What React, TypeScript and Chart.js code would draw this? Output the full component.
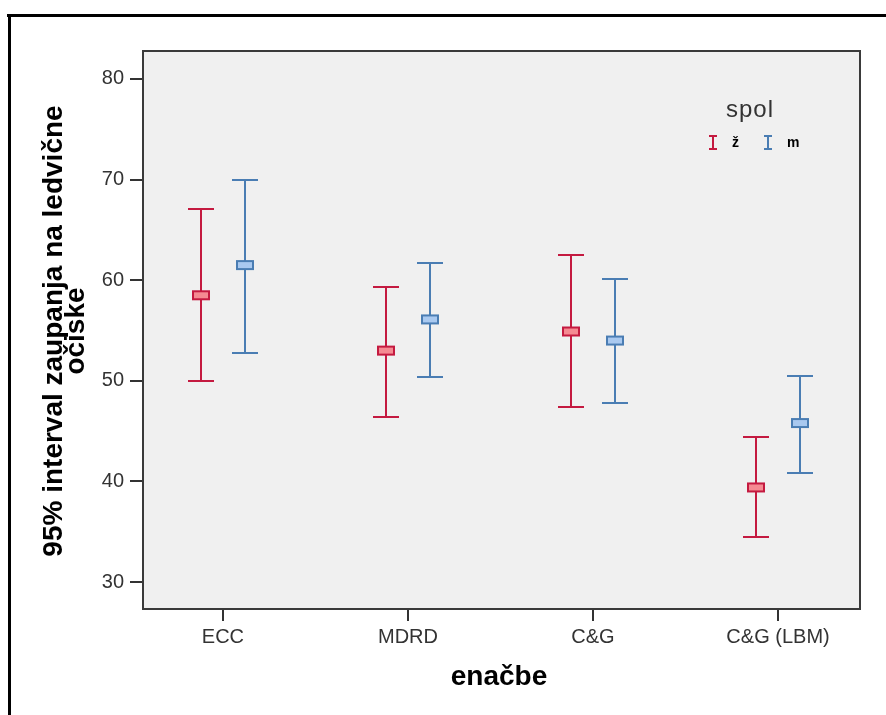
import React, { useEffect, useRef } from "react";
import { Chart, registerables } from "chart.js";

Chart.register(...registerables);

// ---- data ----
const categories = ["ECC", "MDRD", "C&G", "C&G (LBM)"];
const groupLabels = ["ž", "m"];
const femaleMean = [58.5, 53.0, 54.9, 39.4];
const femaleLower = [50.0, 46.4, 47.4, 34.5];
const femaleUpper = [67.1, 59.3, 62.5, 44.4];
const maleMean = [61.5, 56.1, 54.0, 45.8];
const maleLower = [52.8, 50.4, 47.8, 40.8];
const maleUpper = [70.0, 61.7, 60.1, 50.5];
const yTicks = [30, 40, 50, 60, 70, 80];
const yTitleLines = ["95% interval zaupanja na ledvične", "očiske"];
const xTitle = "enačbe";
const legendTitle = "spol";

// ---- styles ----
const FONT = '"Liberation Sans", Arial, sans-serif';
const GROUP_OFFSET = 0.12;
const seriesStyle = [
  { line: "#c41a40", fill: "#f58a92", offset: -GROUP_OFFSET },
  { line: "#4a7db3", fill: "#a9c9f0", offset: GROUP_OFFSET },
];
const seriesData = [
  { mean: femaleMean, lower: femaleLower, upper: femaleUpper },
  { mean: maleMean, lower: maleLower, upper: maleUpper },
];

const errorBarPlugin = {
  id: "errorBars",
  beforeDatasetsDraw(chart: any) {
    const { ctx, chartArea: a } = chart;
    ctx.save();
    ctx.fillStyle = "#f0f0f0";
    ctx.fillRect(a.left, a.top, a.right - a.left, a.bottom - a.top);
    ctx.restore();
  },
  afterDatasetsDraw(chart: any) {
    const { ctx } = chart;
    const xs = chart.scales.x;
    const ys = chart.scales.y;
    ctx.save();
    seriesData.forEach((s, si) => {
      const st = seriesStyle[si];
      s.mean.forEach((m, i) => {
        const px = Math.round(xs.getPixelForValue(i + st.offset));
        const pTop = Math.round(ys.getPixelForValue(s.upper[i]));
        const pBot = Math.round(ys.getPixelForValue(s.lower[i]));
        const pMean = ys.getPixelForValue(m);
        ctx.strokeStyle = st.line;
        ctx.lineWidth = 2;
        ctx.beginPath();
        ctx.moveTo(px, pTop);
        ctx.lineTo(px, pBot);
        ctx.moveTo(px - 13, pTop);
        ctx.lineTo(px + 13, pTop);
        ctx.moveTo(px - 13, pBot);
        ctx.lineTo(px + 13, pBot);
        ctx.stroke();
        ctx.fillStyle = st.fill;
        ctx.fillRect(px - 8, pMean - 4, 16, 8);
        ctx.strokeRect(px - 8, pMean - 4, 16, 8);
      });
    });
    ctx.restore();
  },
  afterDraw(chart: any) {
    const { ctx, chartArea: a } = chart;
    ctx.save();
    // plot border
    ctx.strokeStyle = "#3a3a3a";
    ctx.lineWidth = 2;
    ctx.strokeRect(a.left, a.top, a.right - a.left, a.bottom - a.top);

    // y title
    ctx.fillStyle = "#000";
    ctx.font = `bold 28px ${FONT}`;
    ctx.textAlign = "center";
    ctx.textBaseline = "alphabetic";
    ctx.save();
    ctx.translate(0, 331);
    ctx.rotate(-Math.PI / 2);
    ctx.fillText(yTitleLines[0], 0, 62);
    ctx.fillText(yTitleLines[1], 0, 84);
    ctx.restore();

    // x title
    ctx.fillText(xTitle, 499, 685);

    // legend
    ctx.fillStyle = "#333";
    ctx.font = `24px ${FONT}`;
    (ctx as any).letterSpacing = "1px";
    ctx.fillText(legendTitle, 750, 117);
    (ctx as any).letterSpacing = "0px";
    const lx = [713, 768];
    groupLabels.forEach((g, gi) => {
      const st = seriesStyle[gi];
      const x = lx[gi];
      ctx.strokeStyle = st.line;
      ctx.lineWidth = 2;
      ctx.beginPath();
      ctx.moveTo(x, 136);
      ctx.lineTo(x, 149);
      ctx.moveTo(x - 4, 136);
      ctx.lineTo(x + 4, 136);
      ctx.moveTo(x - 4, 149);
      ctx.lineTo(x + 4, 149);
      ctx.stroke();
      ctx.fillStyle = "#000";
      ctx.font = `bold 14px ${FONT}`;
      ctx.textAlign = "left";
      ctx.fillText(g, x + 19, 147);
    });

    // outer frame
    ctx.fillStyle = "#000";
    ctx.fillRect(7, 14, 879, 3);
    ctx.fillRect(8, 14, 3, 701);
    ctx.restore();
  },
};

export default function App() {
  const ref = useRef<HTMLCanvasElement | null>(null);
  useEffect(() => {
    if (!ref.current) return;
    const tickFont = { family: FONT, size: 20 };
    const chart = new Chart(ref.current, {
      type: "scatter",
      data: {
        datasets: seriesData.map((s, si) => ({
          label: groupLabels[si],
          data: s.mean.map((v, i) => ({ x: i + seriesStyle[si].offset, y: v })),
          pointRadius: 0,
          showLine: false,
        })),
      },
      options: {
        responsive: false,
        animation: false,
        layout: { padding: { top: 51, right: 26, left: 0, bottom: 0 } },
        plugins: { legend: { display: false }, tooltip: { enabled: false } },
        scales: {
          x: {
            type: "linear",
            min: -0.432,
            max: 3.443,
            afterBuildTicks: (s: any) => {
              s.ticks = categories.map((_, i) => ({ value: i }));
            },
            afterFit: (s: any) => {
              s.height = 106;
            },
            ticks: {
              callback: (v: any) => categories[v as number],
              font: tickFont,
              color: "#333",
              padding: 4,
              maxRotation: 0,
              autoSkip: false,
            },
            grid: { drawOnChartArea: false, drawTicks: true, tickLength: 12, color: "#333", lineWidth: 2 },
            border: { display: false },
          },
          y: {
            type: "linear",
            min: 27.32,
            max: 82.78,
            afterBuildTicks: (s: any) => {
              s.ticks = yTicks.map((v) => ({ value: v }));
            },
            afterFit: (s: any) => {
              s.width = 143;
            },
            ticks: { font: tickFont, color: "#333", padding: 6 },
            grid: { drawOnChartArea: false, drawTicks: true, tickLength: 13, color: "#333", lineWidth: 2 },
            border: { display: false },
          },
        },
      } as any,
      plugins: [errorBarPlugin],
    });
    return () => chart.destroy();
  }, []);
  return (
    <div style={{ position: "absolute", left: 0, top: 0, width: 886, height: 715, background: "#fff" }}>
      <canvas ref={ref} width={886} height={715} style={{ display: "block" }} />
    </div>
  );
}
